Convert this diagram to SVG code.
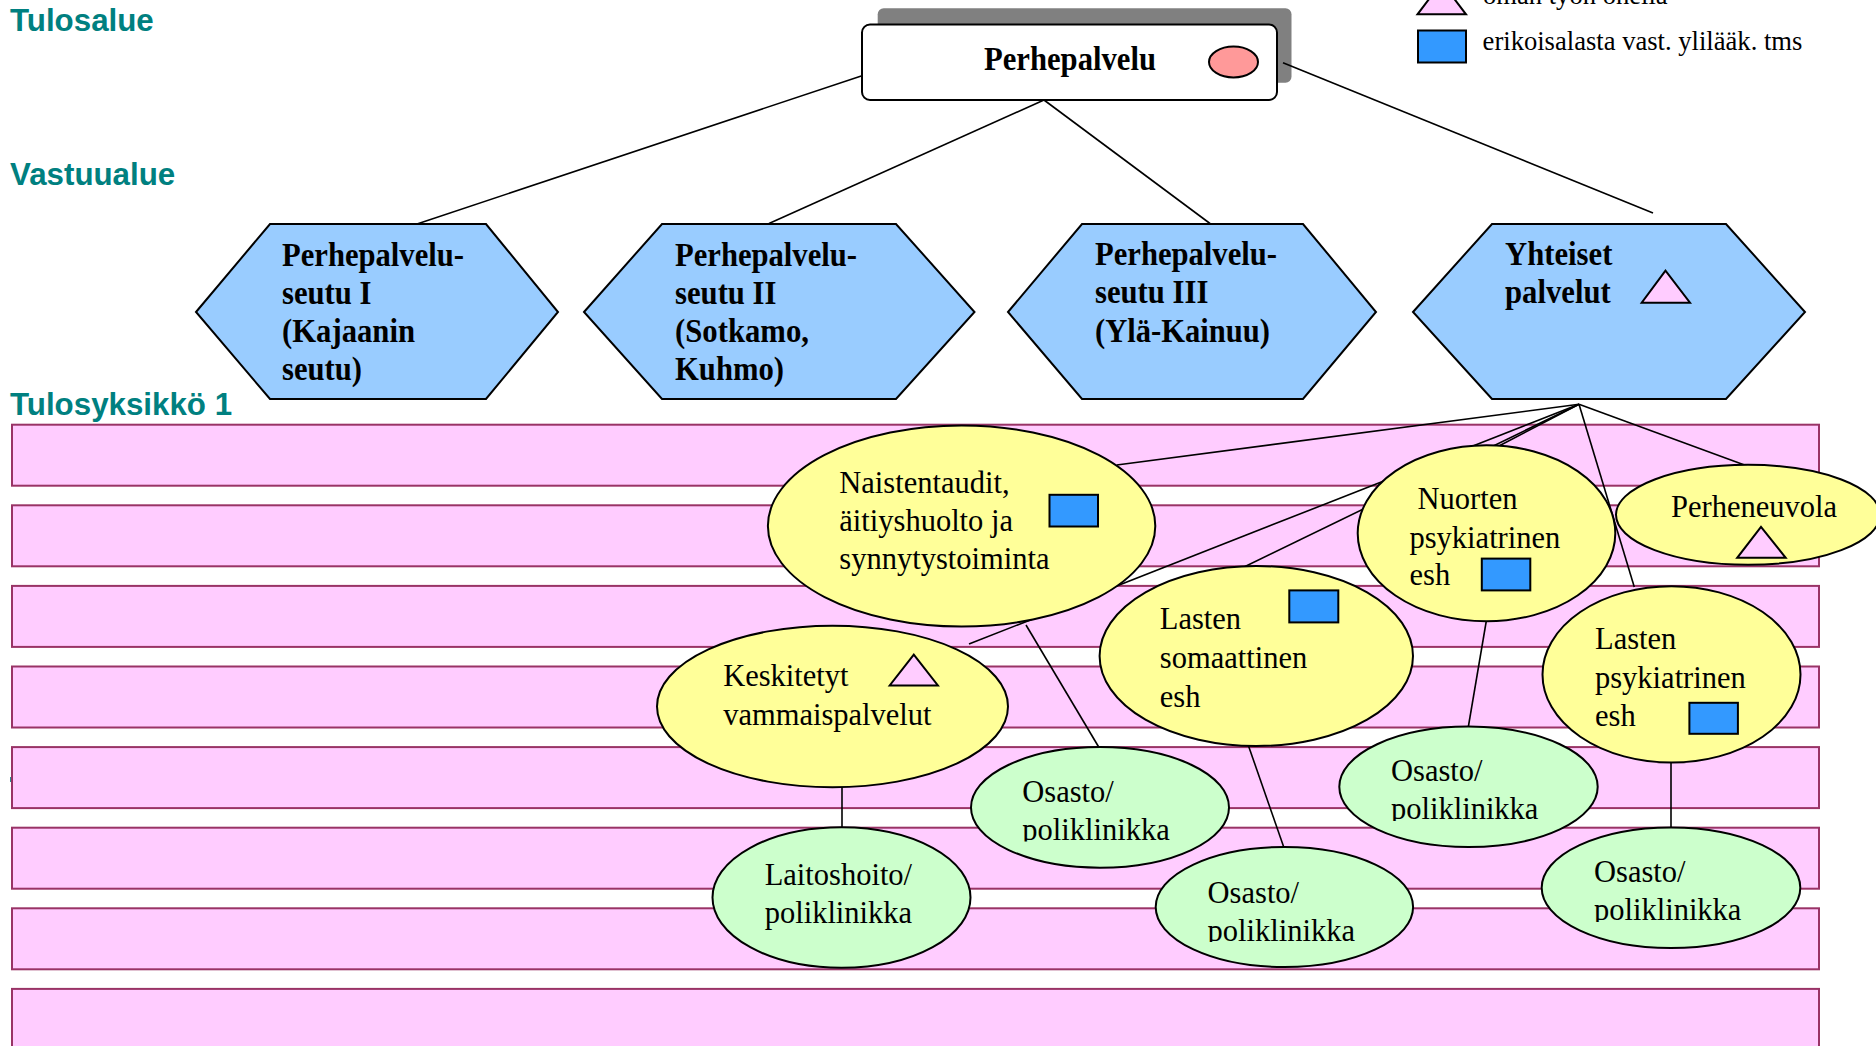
<svg xmlns="http://www.w3.org/2000/svg" width="1876" height="1046" viewBox="0 0 1876 1046">
<style>
.lbl{font-family:"Liberation Sans",Arial,sans-serif;font-weight:bold;font-size:31.3px;fill:#008080}
.hx{fill:#99CCFF;stroke:#000;stroke-width:2}
.hxt{font-family:"Liberation Serif","Times New Roman",serif;font-weight:bold;font-size:33px;fill:#000}
.t{font-family:"Liberation Serif","Times New Roman",serif;font-size:30.5px;fill:#000}
.lg{font-family:"Liberation Serif","Times New Roman",serif;font-size:26.6px;fill:#000}
.band{fill:#FFCCFF;stroke:#993366;stroke-width:2}
.ye{fill:#FFFF99;stroke:#000;stroke-width:2}
.gr{fill:#CCFFCC;stroke:#000;stroke-width:2}
.sq{fill:#3399FF;stroke:#000;stroke-width:2}
.tri{fill:#FFCCFF;stroke:#000;stroke-width:2}
.cn line{stroke:#000;stroke-width:1.6}
</style>
<defs>
<clipPath id="c1"><rect x="960" y="760" width="300" height="81.5"/></clipPath>
<clipPath id="c2"><rect x="1150" y="860" width="300" height="82"/></clipPath>
<clipPath id="c3"><rect x="1330" y="740" width="300" height="81"/></clipPath>
<clipPath id="c4"><rect x="1540" y="840" width="300" height="82"/></clipPath>
</defs>
<rect width="1876" height="1046" fill="#fff"/>

<g id="labels">
<text class="lbl" x="10" y="31">Tulosalue</text>
<text class="lbl" x="10" y="185">Vastuualue</text>
<text class="lbl" x="10" y="415">Tulosyksikkö 1</text>
<rect x="10" y="777" width="2" height="5" fill="#2a8f8a"/>
</g>

<g id="legend">
<polygon class="tri" points="1441.7,-17.7 1417.5,14.3 1466,14.3"/>
<text class="lg" x="1483" y="4">oman työn ohella</text>
<rect class="sq" x="1418" y="30.5" width="48" height="32"/>
<text class="lg" x="1482.6" y="50">erikoisalasta vast. ylilääk. tms</text>
</g>

<g id="bands">
<rect class="band" x="12" y="424.7" width="1807" height="61"/>
<rect class="band" x="12" y="505.3" width="1807" height="61"/>
<rect class="band" x="12" y="585.9" width="1807" height="61"/>
<rect class="band" x="12" y="666.5" width="1807" height="61"/>
<rect class="band" x="12" y="747.1" width="1807" height="61"/>
<rect class="band" x="12" y="827.7" width="1807" height="61"/>
<rect class="band" x="12" y="908.3" width="1807" height="61"/>
<rect class="band" x="12" y="988.9" width="1807" height="70"/>
</g>

<g id="perhepalvelu">
<rect x="877.7" y="8.3" width="413.8" height="74.4" rx="6" fill="#808080"/>
<rect x="862" y="24.5" width="415" height="75.5" rx="8" fill="#fff" stroke="#000" stroke-width="2"/>
<text class="hxt" x="984" y="70" textLength="172" lengthAdjust="spacingAndGlyphs">Perhepalvelu</text>
<ellipse cx="1233.5" cy="62" rx="24.5" ry="15.5" fill="#FF9999" stroke="#000" stroke-width="2"/>
</g>

<g id="connectors" class="cn">
<line x1="862" y1="75.7" x2="417" y2="224"/>
<line x1="1044" y1="100" x2="769" y2="223.5"/>
<line x1="1044" y1="100" x2="1210" y2="223.5"/>
<line x1="1283" y1="62.7" x2="1653" y2="213"/>
<line x1="1579" y1="404.3" x2="1116.7" y2="465"/>
<line x1="1579" y1="404.3" x2="969" y2="644"/>
<line x1="1579" y1="404.3" x2="1244" y2="567"/>
<line x1="1579" y1="404.3" x2="1497" y2="447"/>
<line x1="1579" y1="404.3" x2="1634.3" y2="587"/>
<line x1="1579" y1="404.3" x2="1744.5" y2="465"/>
<line x1="1026" y1="625" x2="1098.7" y2="747"/>
<line x1="842" y1="787" x2="842" y2="827.5"/>
<line x1="1248.2" y1="745" x2="1283.9" y2="847.5"/>
<line x1="1486.3" y1="621" x2="1468.3" y2="727"/>
<line x1="1671" y1="762" x2="1671" y2="827.5"/>
</g>

<g id="hex1">
<polygon class="hx" points="196,312 270,224 486,224 558,312 486,399 270,399"/>
<text class="hxt" x="282" y="266" textLength="182" lengthAdjust="spacingAndGlyphs">Perhepalvelu-</text>
<text class="hxt" x="282" y="304" textLength="89.5" lengthAdjust="spacingAndGlyphs">seutu I</text>
<text class="hxt" x="282" y="342" textLength="133" lengthAdjust="spacingAndGlyphs">(Kajaanin</text>
<text class="hxt" x="282" y="380" textLength="80" lengthAdjust="spacingAndGlyphs">seutu)</text>
</g>
<g id="hex2">
<polygon class="hx" points="584,312 662,224 896,224 974.5,312 896,399 662,399"/>
<text class="hxt" x="675" y="266" textLength="182" lengthAdjust="spacingAndGlyphs">Perhepalvelu-</text>
<text class="hxt" x="675" y="304" textLength="101.5" lengthAdjust="spacingAndGlyphs">seutu II</text>
<text class="hxt" x="675" y="342" textLength="134" lengthAdjust="spacingAndGlyphs">(Sotkamo,</text>
<text class="hxt" x="675" y="380" textLength="109" lengthAdjust="spacingAndGlyphs">Kuhmo)</text>
</g>
<g id="hex3">
<polygon class="hx" points="1008,312 1082,224 1303,224 1376,312 1303,399 1082,399"/>
<text class="hxt" x="1095" y="265" textLength="182" lengthAdjust="spacingAndGlyphs">Perhepalvelu-</text>
<text class="hxt" x="1095" y="303" textLength="113.4" lengthAdjust="spacingAndGlyphs">seutu III</text>
<text class="hxt" x="1095" y="342" textLength="175" lengthAdjust="spacingAndGlyphs">(Ylä-Kainuu)</text>
</g>
<g id="hex4">
<polygon class="hx" points="1413,312 1492,224 1726,224 1805,312 1726,399 1492,399"/>
<text class="hxt" x="1505" y="265" textLength="107.4" lengthAdjust="spacingAndGlyphs">Yhteiset</text>
<text class="hxt" x="1505" y="303" textLength="105.7" lengthAdjust="spacingAndGlyphs">palvelut</text>
<polygon class="tri" points="1665.5,270.7 1641.7,302.7 1690,302.7"/>
</g>

<g id="naistentaudit">
<ellipse class="ye" cx="961.6" cy="526" rx="193.7" ry="100.5"/>
<text class="t" x="839.3" y="492.7">Naistentaudit,</text>
<text class="t" x="839.3" y="531">äitiyshuolto ja</text>
<text class="t" x="839.3" y="569">synnytystoiminta</text>
<rect class="sq" x="1049.5" y="494.8" width="48.5" height="31.7"/>
</g>
<g id="keskitetyt">
<ellipse class="ye" cx="832.5" cy="706.5" rx="175.5" ry="80.8"/>
<text class="t" x="723.2" y="686.4">Keskitetyt</text>
<text class="t" x="723.2" y="725">vammaispalvelut</text>
<polygon class="tri" points="913.8,654.6 889.7,685.5 937.9,685.5"/>
</g>
<g id="laitoshoito">
<ellipse class="gr" cx="841.5" cy="897.5" rx="129" ry="70.3"/>
<text class="t" x="764.7" y="885.4">Laitoshoito/</text>
<text class="t" x="764.7" y="923.3">poliklinikka</text>
</g>
<g id="osasto1">
<ellipse class="gr" cx="1100" cy="807.4" rx="129" ry="60.3"/>
<g clip-path="url(#c1)">
<text class="t" x="1022.3" y="801.7">Osasto/</text>
<text class="t" x="1022.3" y="839.8">poliklinikka</text>
</g>
</g>
<g id="lasten-somaattinen">
<ellipse class="ye" cx="1256.3" cy="656" rx="156.7" ry="90"/>
<text class="t" x="1159.8" y="628.7">Lasten</text>
<text class="t" x="1159.8" y="667.8">somaattinen</text>
<text class="t" x="1159.8" y="707">esh</text>
<rect class="sq" x="1289.3" y="590.4" width="49" height="32"/>
</g>
<g id="osasto2">
<ellipse class="gr" cx="1284.4" cy="907" rx="128.7" ry="60"/>
<g clip-path="url(#c2)">
<text class="t" x="1207.6" y="902.7">Osasto/</text>
<text class="t" x="1207.6" y="940.8">poliklinikka</text>
</g>
</g>
<g id="nuorten">
<ellipse class="ye" cx="1486.5" cy="533.3" rx="128.8" ry="88"/>
<text class="t" x="1417.6" y="509.2">Nuorten</text>
<text class="t" x="1409.5" y="547.5">psykiatrinen</text>
<text class="t" x="1409.5" y="585.4">esh</text>
<rect class="sq" x="1481.8" y="558.6" width="48.5" height="31.8"/>
</g>
<g id="perheneuvola">
<ellipse class="ye" cx="1748" cy="514.8" rx="132" ry="50"/>
<text class="t" x="1671" y="517.4">Perheneuvola</text>
<polygon class="tri" points="1761,526.9 1737.2,557.8 1785.7,557.8"/>
</g>
<g id="lasten-psykiatrinen">
<ellipse class="ye" cx="1671.5" cy="674.4" rx="129" ry="88.2"/>
<text class="t" x="1595" y="649.3">Lasten</text>
<text class="t" x="1595" y="688">psykiatrinen</text>
<text class="t" x="1595" y="726">esh</text>
<rect class="sq" x="1689.4" y="702.8" width="48.5" height="31"/>
</g>
<g id="osasto3">
<ellipse class="gr" cx="1468.5" cy="786.8" rx="129.2" ry="60.2"/>
<g clip-path="url(#c3)">
<text class="t" x="1391" y="781">Osasto/</text>
<text class="t" x="1391" y="819">poliklinikka</text>
</g>
</g>
<g id="osasto4">
<ellipse class="gr" cx="1671" cy="887.7" rx="129.3" ry="60.3"/>
<g clip-path="url(#c4)">
<text class="t" x="1594" y="882">Osasto/</text>
<text class="t" x="1594" y="920">poliklinikka</text>
</g>
</g>
</svg>
